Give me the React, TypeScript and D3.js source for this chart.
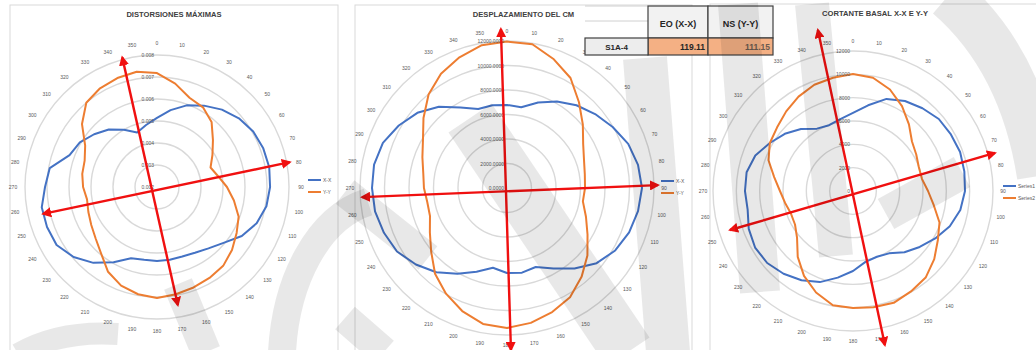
import React from 'react';
import * as d3 from 'd3';

// Directions of the analysis (degrees, clockwise from north)
const ANGLES = [0, 10, 20, 30, 40, 50, 60, 70, 80, 90, 100, 110, 120, 130, 140, 150, 160, 170,
  180, 190, 200, 210, 220, 230, 240, 250, 260, 270, 280, 290, 300, 310, 320, 330, 340, 350];

// Maximum drifts
const distXX = [0.00514, 0.00555, 0.00595, 0.00627, 0.00659, 0.00686, 0.00705, 0.00714, 0.00718,
  0.00714, 0.00705, 0.00682, 0.00645, 0.00595, 0.00564, 0.00545, 0.00536, 0.00536, 0.00536, 0.00536,
  0.00545, 0.00595, 0.0065, 0.00695, 0.00727, 0.00732, 0.00732, 0.00709, 0.00695, 0.00623, 0.00605,
  0.00573, 0.00541, 0.005, 0.00464, 0.00486];
const distYY = [0.00718, 0.00677, 0.00632, 0.00618, 0.00586, 0.00532, 0.00491, 0.00459, 0.00482,
  0.00518, 0.00555, 0.00595, 0.00618, 0.00645, 0.00668, 0.00677, 0.00686, 0.00695, 0.00705, 0.00695,
  0.00677, 0.00645, 0.00595, 0.00564, 0.00545, 0.00532, 0.00523, 0.00536, 0.00545, 0.0055, 0.00577,
  0.00645, 0.007, 0.00718, 0.00727, 0.00732];

// Displacement of the centre of mass
const despXX = [6780, 6690, 7430, 8160, 8820, 9390, 9960, 10530, 10860, 11020, 10860, 10610, 10200,
  9550, 8570, 7590, 6860, 7020, 6940, 6610, 7270, 8080, 8980, 9710, 10370, 10690, 10940, 11020, 11020,
  10780, 10200, 9550, 8650, 7590, 6860, 6860];
const despYY = [11950, 11920, 11180, 10370, 9140, 8080, 7180, 6690, 6450, 6370, 6290, 6860, 7590,
  8570, 9470, 10290, 10780, 11180, 11430, 11270, 10690, 9960, 9140, 8080, 7270, 6690, 6610, 6780, 6940,
  7350, 7920, 8900, 9960, 10780, 11350, 11840];

// Base shear
const cortXX = [6690, 7460, 8400, 8910, 9260, 9600, 9690, 9770, 9690, 9600, 9340, 8830, 8140, 7460,
  6860, 6170, 6000, 6170, 6860, 7540, 8310, 8830, 9260, 9600, 9690, 9510, 9170, 9260, 9260, 8910, 8230,
  7630, 6940, 6170, 6000, 6260];
const cortYY = [10030, 9860, 9260, 8400, 7460, 6600, 6260, 6000, 6000, 6430, 7030, 7890, 8400, 9090,
  9690, 9940, 10200, 10110, 10030, 9940, 9260, 8400, 7370, 6260, 5740, 5660, 5910, 6260, 6860, 7710,
  8230, 8490, 8910, 9340, 9690, 9860];

// Principal directions (angle, radial value) marked with double arrows
const distArrows = [[[345, 0.0081], [170, 0.00745]], [[256.7, 0.00732], [79.4, 0.00814]]];
const despArrows = [[[357.8, 12980], [178.6, 13224]], [[266.4, 11860], [88.9, 12330]]];
const cortArrows = [[[347.7, 14126], [168.3, 13483]], [[252.4, 11057], [75, 12600]]];

// Summary table
const tableCols = ['EO (X-X)', 'NS (Y-Y)'];
const tableRowLabel = 'S1A-4';
const tableValues = [119.11, 111.15];

const BLUE = '#4472c4';
const ORANGE = '#ed7d31';
const RED = '#f01010';
const FONT = "'Liberation Sans', Arial, sans-serif";

type PolarCfg = {
  title: string;
  panel: [number, number, number, number];
  cx: number; cy: number; R: number;
  domain: [number, number];
  fmt: string;
  series: number[][];
  names: string[];
  legend: [number, number];
  arrows: number[][][];
  labelGap: number;
};

const charts: PolarCfg[] = [
  {
    title: 'DISTORSIONES MÁXIMAS', panel: [10, 5, 328, 350], cx: 157, cy: 187, R: 132,
    domain: [0.002, 0.008], fmt: '.3f', series: [distXX, distYY], names: ['X-X', 'Y-Y'],
    legend: [308, 180], arrows: distArrows, labelGap: 12,
  },
  {
    title: 'DESPLAZAMIENTO DEL CM', panel: [355, 5, 337, 350], cx: 507, cy: 188, R: 147,
    domain: [0, 12000], fmt: '.4f', series: [despXX, despYY], names: ['X-X', 'Y-Y'],
    legend: [661, 181], arrows: despArrows, labelGap: 10,
  },
  {
    title: 'CORTANTE BASAL X-X E Y-Y', panel: [710, 4, 330, 350], cx: 853, cy: 191, R: 140,
    domain: [0, 12000], fmt: 'd', series: [cortXX, cortYY], names: ['Series1', 'Series2'],
    legend: [1003, 186], arrows: cortArrows, labelGap: 10,
  },
];

function Polar({ cfg, idx }: { cfg: PolarCfg; idx: number }) {
  const r = d3.scaleLinear().domain(cfg.domain).range([0, cfg.R]);
  const ticks = r.ticks(6);
  const fmt = d3.format(cfg.fmt);
  const rad = (a: number) => (a * Math.PI) / 180;
  const line = d3
    .lineRadial<number>()
    .angle((_, i) => rad(ANGLES[i]))
    .radius((d) => r(d))
    .curve(d3.curveLinearClosed);
  const colors = [BLUE, ORANGE];
  const [px, py, pw, ph] = cfg.panel;
  return (
    <g>
      <rect x={px} y={py} width={pw} height={ph} fill="#fff" stroke="#d9d9d9" strokeWidth={1} />
      <text x={px + pw / 2} y={py + 12} textAnchor="middle" fontSize={7.6} fontWeight="bold"
        fill="#404040" fontFamily={FONT}>{cfg.title}</text>
      <g transform={`translate(${cfg.cx},${cfg.cy})`}>
        {ticks.filter((t) => t > cfg.domain[0]).map((t) => (
          <circle key={t} r={r(t)} fill="none" stroke="#d9d9d9" strokeWidth={1.4} />
        ))}
        {ANGLES.map((a) => {
          const [x, y] = d3.pointRadial(rad(a), cfg.R + cfg.labelGap);
          return (
            <text key={a} x={x} y={y} textAnchor="middle" dominantBaseline="central" fontSize={5}
              fill="#595959" fontFamily={FONT}>{a}</text>
          );
        })}
        {cfg.series.map((s, i) => (
          <path key={i} d={line(s) || ''} fill="none" stroke={colors[i]} strokeWidth={2}
            strokeLinejoin="round" />
        ))}
        {ticks.map((t) => (
          <text key={'t' + t} x={-3} y={-r(t)} textAnchor="end" dominantBaseline="central"
            fontSize={5} fill="#595959" fontFamily={FONT}>{fmt(t)}</text>
        ))}
        {cfg.arrows.map((ar, i) => {
          const [p0, p1] = ar.map(([a, v]) => d3.pointRadial(rad(a), r(v)));
          return (
            <line key={'a' + i} x1={p0[0]} y1={p0[1]} x2={p1[0]} y2={p1[1]} stroke={RED}
              strokeWidth={2.4} markerStart={`url(#arrowhead)`} markerEnd={`url(#arrowhead)`} />
          );
        })}
      </g>
      {cfg.names.map((n, i) => (
        <g key={n} transform={`translate(${cfg.legend[0]},${cfg.legend[1] + i * 12})`}>
          <line x1={0} x2={13} y1={0} y2={0} stroke={colors[i]} strokeWidth={2} />
          <text x={15} y={0} dominantBaseline="central" fontSize={5} fill="#595959"
            fontFamily={FONT}>{n}</text>
        </g>
      ))}
    </g>
  );
}

function Table() {
  const xs = [585, 648, 708, 773];
  const ys = [6, 38, 55];
  return (
    <g fontFamily={FONT}>
      <rect x={xs[0]} y={ys[0]} width={xs[1] - xs[0]} height={ys[1] - ys[0]} fill="#fff" />
      <line x1={xs[0]} x2={xs[1]} y1={21} y2={21} stroke="#d0d0d0" />
      <line x1={xs[0]} x2={xs[1]} y1={ys[0]} y2={ys[0]} stroke="#d0d0d0" />
      {tableCols.map((c, i) => (
        <g key={c}>
          <rect x={xs[i + 1]} y={ys[0]} width={xs[i + 2] - xs[i + 1]} height={ys[1] - ys[0]}
            fill="#f2f2f2" stroke="#404040" strokeWidth={1.2} />
          <text x={(xs[i + 1] + xs[i + 2]) / 2} y={24} textAnchor="middle" dominantBaseline="central"
            fontSize={9} fontWeight="bold" fill="#262626">{c}</text>
          <rect x={xs[i + 1]} y={ys[1]} width={xs[i + 2] - xs[i + 1]} height={ys[2] - ys[1]}
            fill="#f4b084" stroke="#404040" strokeWidth={1.2} />
          <text x={xs[i + 2] - 3} y={47} textAnchor="end" dominantBaseline="central" fontSize={8.5}
            fontWeight="bold" fill={i === 0 ? '#262626' : '#6b5a50'}>{d3.format('.2f')(tableValues[i])}</text>
        </g>
      ))}
      <rect x={xs[0]} y={ys[1]} width={xs[1] - xs[0]} height={ys[2] - ys[1]} fill="#ededed"
        stroke="#404040" strokeWidth={1.2} />
      <text x={(xs[0] + xs[1]) / 2} y={47} textAnchor="middle" dominantBaseline="central" fontSize={8}
        fontWeight="bold" fill="#262626">{tableRowLabel}</text>
    </g>
  );
}

// Translucent brush-stroke watermark laid over the sheet
const WATERMARK = [
  { d: 'M 282 352 C 286 280 318 218 368 202', w: 28 },
  { d: 'M 178 284 L 206 352', w: 30 },
  { d: 'M 18 354 Q 60 330 118 334', w: 22 },
  { d: 'M 345 192 L 428 258', w: 30 },
  { d: 'M 345 318 L 384 352', w: 30 },
  { d: 'M 470 118 L 628 352', w: 52 },
  { d: 'M 645 58 L 668 352', w: 44 },
  { d: 'M 738 4 L 760 292', w: 40 },
  { d: 'M 812 4 L 836 256', w: 34 },
  { d: 'M 886 214 L 962 172', w: 34 },
  { d: 'M 948 -4 Q 1022 60 1040 176', w: 46 },
];

export default function App() {
  return (
    <svg width={1036} height={350} style={{ position: 'absolute', left: 0, top: 0 }}>
      <defs>
        <marker id="arrowhead" viewBox="0 0 10 10" refX={8} refY={5} markerWidth={4.2}
          markerHeight={4.2} orient="auto-start-reverse" markerUnits="strokeWidth">
          <path d="M0,0 L10,5 L0,10 z" fill={RED} />
        </marker>
      </defs>
      <rect width={1036} height={350} fill="#fff" />
      {charts.map((c, i) => <Polar key={i} cfg={c} idx={i} />)}
      <Table />
      <g fill="none" stroke="#000" strokeOpacity={0.09} strokeLinecap="butt">
        {WATERMARK.map((w, i) => <path key={i} d={w.d} strokeWidth={w.w} />)}
      </g>
    </svg>
  );
}
